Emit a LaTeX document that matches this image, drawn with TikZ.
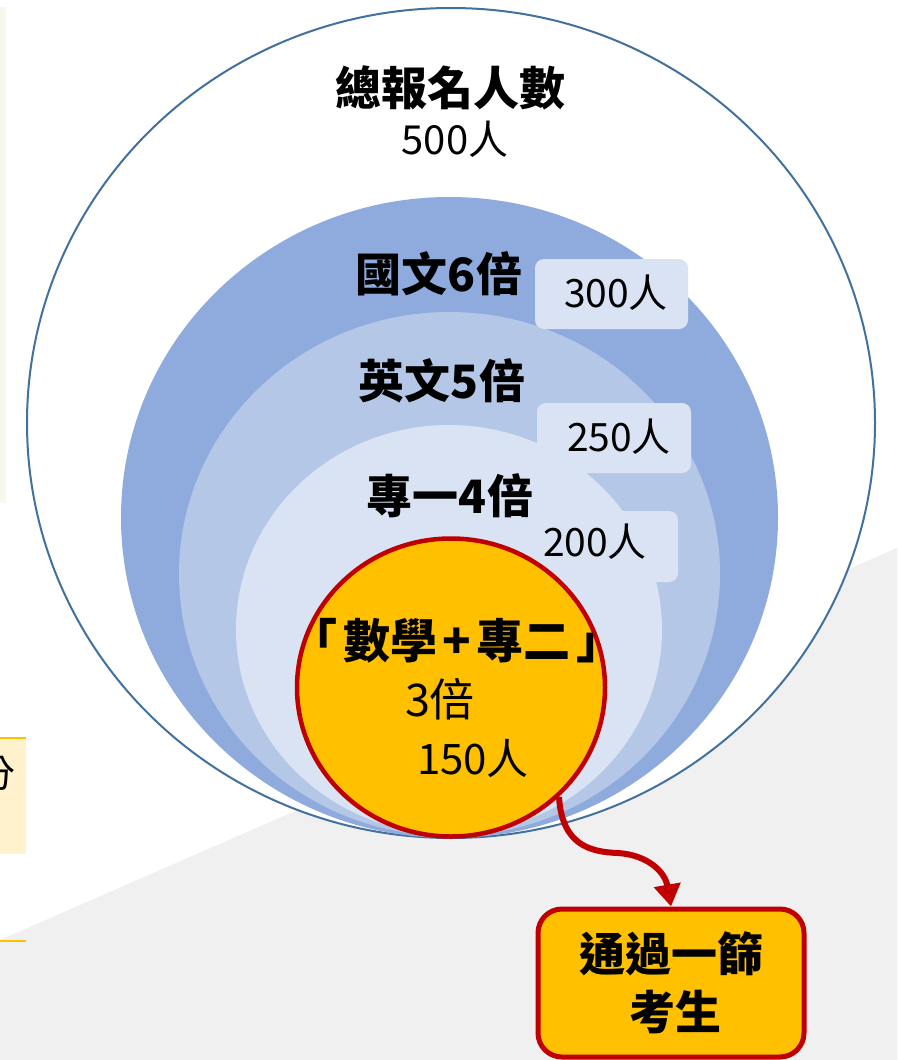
\documentclass[tikz,border=0pt]{standalone}
\usepackage{fontspec}
\newfontfamily\cjk{Noto Sans CJK TC}
\usetikzlibrary{arrows.meta}
\definecolor{ring1}{HTML}{8FAADC}
\definecolor{ring2}{HTML}{B4C7E7}
\definecolor{ring3}{HTML}{DAE3F3}
\definecolor{gold}{HTML}{FFC000}
\definecolor{dred}{HTML}{C00000}
\definecolor{outline}{HTML}{41719C}
\definecolor{graybg}{HTML}{F0F0F0}
\definecolor{cream}{HTML}{F6F8EA}
\definecolor{paleyel}{HTML}{FFF2CC}
\begin{document}
\begin{tikzpicture}[x=1pt,y=-1pt,
  title/.style={font=\cjk\bfseries\fontsize{46}{50}\selectfont, inner sep=0pt},
  num/.style={font=\cjk\fontsize{39}{44}\selectfont, inner sep=0pt},
  labelbox/.style={fill=ring3, rounded corners=9pt},
]
\useasboundingbox (0,0) rectangle (897,1060);
\fill[white] (0,0) rectangle (897,1060);
% left page fragments
\fill[cream] (0,7) rectangle (6,503);
\begin{scope}
\clip (0,737) rectangle (26,854);
\fill[paleyel] (0,737) rectangle (26,854);
\node[font=\cjk\fontsize{38}{40}\selectfont, inner sep=0pt] (fen) at (-4,773) {分};
\end{scope}
\draw[gold, line width=2pt] (0,738) -- (26,738);
% gray diagonal
\fill[graybg] (0,940) -- (897,548) -- (897,1060) -- (0,1060) -- cycle;
\draw[gold, line width=2pt] (0,941) -- (26,941);
% circles
\draw[outline, fill=white, line width=2pt] (451,423) ellipse [x radius=424, y radius=415];
\fill[ring1] (449.5,517.5) ellipse [x radius=328.5, y radius=320.5];
\fill[ring2] (449.5,574) ellipse [x radius=270.5, y radius=262];
\fill[ring3] (449,629.5) ellipse [x radius=213, y radius=204.5];
% label boxes
\node[labelbox, minimum width=153pt, minimum height=70pt] (b300) at (611.5,294) {};
\node[num] (t300) at (616,293) {300人};
\node[labelbox, minimum width=154pt, minimum height=70pt] (b250) at (614,438) {};
\node[num] (t250) at (619,437) {250人};
\node[labelbox, minimum width=158pt, minimum height=71pt] (b200) at (599,546.5) {};
\node[num] (t200) at (595,542) {200人};
% titles
\node[title] (total) at (450,88) {總報名人數};
\node[num, font=\cjk\fontsize{40}{44}\selectfont] (n500) at (455,139) {500人};
\node[title] (chi) at (439,274) {國文6倍};
\node[title] (eng) at (442,381) {英文5倍};
\node[title] (sp1) at (450,496) {專一4倍};
% yellow circle
\draw[dred, fill=gold, line width=4.5pt] (451,687.5) ellipse [x radius=154, y radius=149];
\node[title, font=\cjk\bfseries\fontsize{47}{50}\selectfont] (math) at (457,641) {「\hspace{6pt}數學\hspace{5pt}+\hspace{5pt}專二\hspace{6pt}」};
\node[font=\cjk\fontsize{45}{48}\selectfont, inner sep=0pt] (x3) at (440,699) {3倍};
\node[num, font=\cjk\fontsize{42}{46}\selectfont] (n150) at (473,759) {150人};
\coordinate (start) at (559,797);
% result box
\node[draw=dred, fill=gold, line width=5pt, rounded corners=24pt, minimum width=266pt, minimum height=148pt, align=center, font=\cjk\bfseries\fontsize{46}{58}\selectfont] (pass) at (671,983) {通過一篩\\\hspace*{0.2em}考生};
\draw[dred, line width=6pt, -{Triangle[width=26pt,length=22pt]}]
  (start) .. controls (562,845) and (590,852) .. (618,853)
  .. controls (648,855) and (665,872) .. (pass.north);
\end{tikzpicture}
\end{document}
